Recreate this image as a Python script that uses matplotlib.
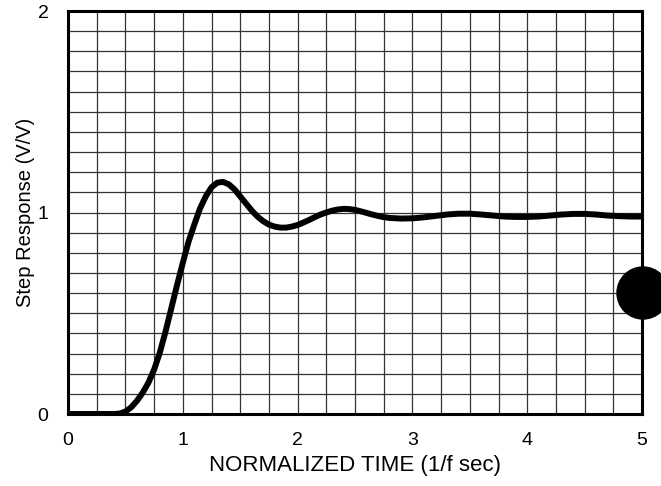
import matplotlib
matplotlib.use("Agg")
import matplotlib.pyplot as plt
from matplotlib.patches import Circle
import numpy as np

plt.rcParams['font.family'] = ['Liberation Sans', 'DejaVu Sans']

# Normalized step response of the filter
time = [0.0, 0.1, 0.2, 0.3, 0.4, 0.45, 0.5, 0.55, 0.6, 0.65, 0.7, 0.75,
        0.8, 0.85, 0.9, 0.95, 1.0, 1.05, 1.1, 1.15, 1.2, 1.25, 1.3, 1.35,
        1.4, 1.45, 1.5, 1.55, 1.6, 1.65, 1.7, 1.75, 1.8, 1.85, 1.9, 1.95,
        2.0, 2.05, 2.1, 2.15, 2.2, 2.25, 2.3, 2.35, 2.4, 2.45, 2.5, 2.55,
        2.6, 2.65, 2.7, 2.75, 2.8, 2.9, 3.0, 3.1, 3.2, 3.3, 3.4, 3.5,
        3.6, 3.7, 3.8, 3.9, 4.0, 4.1, 4.2, 4.3, 4.4, 4.5, 4.6, 4.7,
        4.8, 4.9, 5.0]
response = [0.0, 0.0, 0.0, 0.0, 0.0, 0.002, 0.012, 0.033, 0.065, 0.105, 0.155, 0.22,
            0.305, 0.41, 0.525, 0.64, 0.75, 0.855, 0.94, 1.02, 1.08, 1.125, 1.148, 1.152,
            1.14, 1.115, 1.08, 1.045, 1.01, 0.98, 0.957, 0.94, 0.93, 0.925, 0.925, 0.93,
            0.938, 0.95, 0.963, 0.977, 0.99, 1.0, 1.009, 1.015, 1.018, 1.017, 1.013, 1.006,
            0.998, 0.99, 0.983, 0.977, 0.973, 0.970, 0.971, 0.976, 0.983, 0.99, 0.994, 0.994,
            0.99, 0.985, 0.98, 0.978, 0.978, 0.98, 0.985, 0.99, 0.993, 0.993, 0.99, 0.985,
            0.982, 0.98, 0.98]

x_ticks = [0, 1, 2, 3, 4, 5]
y_ticks = [0, 1, 2]

fig = plt.figure(figsize=(6.61, 4.86), dpi=100)
ax = fig.add_axes([68 / 661, 1 - 414 / 486, (642 - 68) / 661, (414 - 11) / 486])

ax.set_xlim(0, 5)
ax.set_ylim(0, 2)

# fine grid: 0.25 in time, 0.1 in response
for gx in np.arange(0.25, 5.0, 0.25):
    ax.axvline(gx, color='0.2', lw=0.9, zorder=1)
for gy in np.arange(0.1, 2.0, 0.1):
    ax.axhline(gy, color='0.2', lw=0.9, zorder=1)

ax.plot(time, response, color='black', lw=4.3, solid_capstyle='butt',
        solid_joinstyle='round', zorder=3, clip_on=True)

for s in ax.spines.values():
    s.set_linewidth(2.2)
    s.set_color('black')
    s.set_zorder(4)

ax.set_xticks(x_ticks)
ax.set_yticks(y_ticks)
ax.set_xticklabels([str(v) for v in x_ticks])
ax.set_yticklabels([str(v) for v in y_ticks])
ax.tick_params(axis='y', length=0, labelsize=14, pad=14)
ax.tick_params(axis='x', length=0, labelsize=14, pad=13)

ax.set_xlabel('NORMALIZED TIME (1/f sec)', fontsize=16, labelpad=4)
ax.set_ylabel('Step Response (V/V)', fontsize=14.5, labelpad=2)

# solid black dot on the right edge of the sheet
dot = Circle((6.43, 1.93), 0.26, transform=fig.dpi_scale_trans,
             color='black', zorder=10)
fig.add_artist(dot)

fig.savefig('out.png', dpi=100)
